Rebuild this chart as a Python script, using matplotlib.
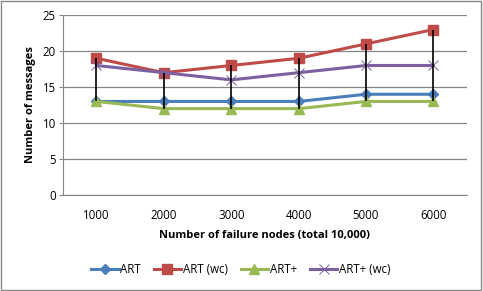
import numpy as np
import matplotlib.pyplot as plt
from matplotlib.patches import Rectangle

categories = ['1000', '2000', '3000', '4000', '5000', '6000']
art = [13, 13, 13, 13, 14, 14]
art_wc = [19, 17, 18, 19, 21, 23]
art_plus = [13, 12, 12, 12, 13, 13]
art_plus_wc = [18, 17, 16, 17, 18, 18]

plt.rcParams['font.family'] = ['Open Sans', 'DejaVu Sans']

fig = plt.figure(figsize=(4.83, 2.91), dpi=100)
ax = fig.add_axes([0.130, 0.330, 0.837, 0.618])

x = np.arange(len(categories))
series = [
    (art, 'ART', '#4a7ebb', 'D', 5, 1),
    (art_wc, 'ART (wc)', '#be4b48', 's', 6.5, 1),
    (art_plus, 'ART+', '#98b954', '^', 6.5, 1),
    (art_plus_wc, 'ART+ (wc)', '#7d60a0', 'x', 7, 0.7),
]

# high-low lines
all_vals = np.array([s[0] for s in series])
ax.vlines(x, all_vals.min(axis=0), all_vals.max(axis=0), color='black', lw=1.2, zorder=4)

for vals, label, color, marker, ms, mew in series:
    ax.plot(x, vals, color=color, lw=2.2, marker=marker, ms=ms, mew=mew,
            label=label, zorder=3)

ax.set_xlim(-0.5, len(categories) - 0.5)
ax.set_ylim(0, 25)
ax.set_yticks(range(0, 26, 5))
ax.set_xticks(x)
ax.set_xticklabels(categories)
ax.grid(axis='y', color='#868686', lw=0.9)
ax.set_axisbelow(True)
for side in ['top', 'right']:
    ax.spines[side].set_visible(False)
for side in ['left', 'bottom']:
    ax.spines[side].set_color('#868686')
ax.tick_params(axis='y', length=3, color='#868686', labelsize=8.3, pad=2)
ax.tick_params(axis='x', length=0, labelsize=8.3, pad=10)

ax.set_xlabel('Number of failure nodes (total 10,000)', fontsize=8,
              fontweight='bold', labelpad=6)
ax.set_ylabel('Number of messages', fontsize=8, fontweight='bold', labelpad=5)

ax.legend(loc='upper center', bbox_to_anchor=(0.44, -0.32), ncol=4,
          frameon=False, fontsize=8.3, handlelength=2.4, handletextpad=0.15,
          columnspacing=1.1)

fig.patches.append(Rectangle((0.003, 0.005), 0.993, 0.99, transform=fig.transFigure,
                             fill=False, edgecolor='#868686', lw=1))

fig.savefig('out.png', dpi=100)
